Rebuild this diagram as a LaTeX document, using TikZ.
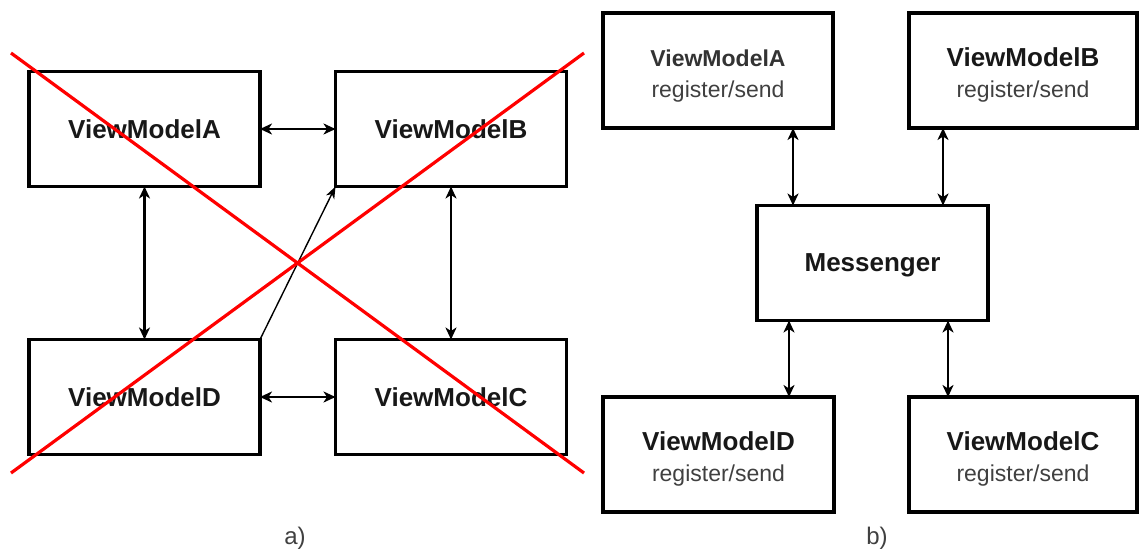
\documentclass[tikz,border=0pt]{standalone}
\usepackage{fontspec}
\setmainfont{Liberation Sans}
\usetikzlibrary{arrows.meta}

\definecolor{crossred}{RGB}{255,0,0}
\definecolor{titleink}{RGB}{24,24,24}
\definecolor{subink}{RGB}{64,64,64}

\newcommand{\titlefont}{\fontsize{26}{31}\selectfont\bfseries}
\newcommand{\smalltitle}{\fontsize{23}{31}\selectfont\bfseries\color{subink!80!black}}
\newcommand{\subfont}{\fontsize{23}{31}\selectfont\color{subink}}
\newcommand{\firstline}{\rule{0pt}{27pt}}

\begin{document}
\begin{tikzpicture}[x=1pt,y=-1pt,
  box/.style={draw=black, line width=3.2pt, fill=white, inner sep=0pt,
    outer sep=0pt, text=titleink, align=center},
  leftbox/.style={box, minimum width=231pt, minimum height=115pt,
    font=\titlefont, text depth=0pt},
  rightbox/.style={box, minimum width=230pt, minimum height=115pt,
    font=\fontsize{23}{31}\selectfont},
  biarrow/.style={line width=2.2pt,
    {Stealth[length=12pt,width=11pt,inset=3.5pt]}-{Stealth[length=12pt,width=11pt,inset=3.5pt]}},
  thinarrow/.style={line width=1.4pt, -{Stealth[length=12pt,width=9pt,inset=3.5pt]}},
  crossline/.style={draw=crossred, line width=3.2pt},
  caption/.style={font=\fontsize{24}{28}\selectfont, text=subink}]
\useasboundingbox (0,0) rectangle (1139,552);

% ---- a) direct coupling between view models ----
\node[leftbox] (A) at (144.5,129) {ViewModelA};
\node[leftbox] (B) at (451,129) {ViewModelB};
\node[leftbox] (D) at (144.5,397) {ViewModelD};
\node[leftbox] (C) at (451,397) {ViewModelC};

\draw[biarrow] (A.east) -- (B.west);
\draw[biarrow] (D.east) -- (C.west);
\draw[biarrow] (A.south) -- (D.north);
\draw[biarrow] (B.south) -- (C.north);
\draw[thinarrow] (D.north east) -- (B.south west);

\draw[crossline] (11,53) -- (584,473);
\draw[crossline] (584,53) -- (11,473);

\node[caption] (capA) at (295,538) {a)};

% ---- b) communication through a messenger ----
\node[rightbox, minimum width=230pt] (RA) at (718,70.5)
  {\firstline{\smalltitle ViewModelA}\\{\subfont register/send}};
\node[rightbox, minimum width=228pt] (RB) at (1023,70.5)
  {\firstline{\titlefont ViewModelB}\\{\subfont register/send}};
\node[rightbox, minimum width=231pt, font=\titlefont, text depth=0pt] (M)
  at (872.5,263) {Messenger};
\node[rightbox, minimum width=231pt] (RD) at (718.5,454.5)
  {\firstline{\titlefont ViewModelD}\\{\subfont register/send}};
\node[rightbox, minimum width=228pt] (RC) at (1023,454.5)
  {\firstline{\titlefont ViewModelC}\\{\subfont register/send}};

\draw[biarrow] ([xshift=75pt]RA.south) -- ([xshift=-79.5pt]M.north);
\draw[biarrow] ([xshift=-80pt]RB.south) -- ([xshift=70.5pt]M.north);
\draw[biarrow] ([xshift=-83.5pt]M.south) -- ([xshift=70.5pt]RD.north);
\draw[biarrow] ([xshift=75.5pt]M.south) -- ([xshift=-75pt]RC.north);

\node[caption] (capB) at (877,538) {b)};
\end{tikzpicture}
\end{document}
